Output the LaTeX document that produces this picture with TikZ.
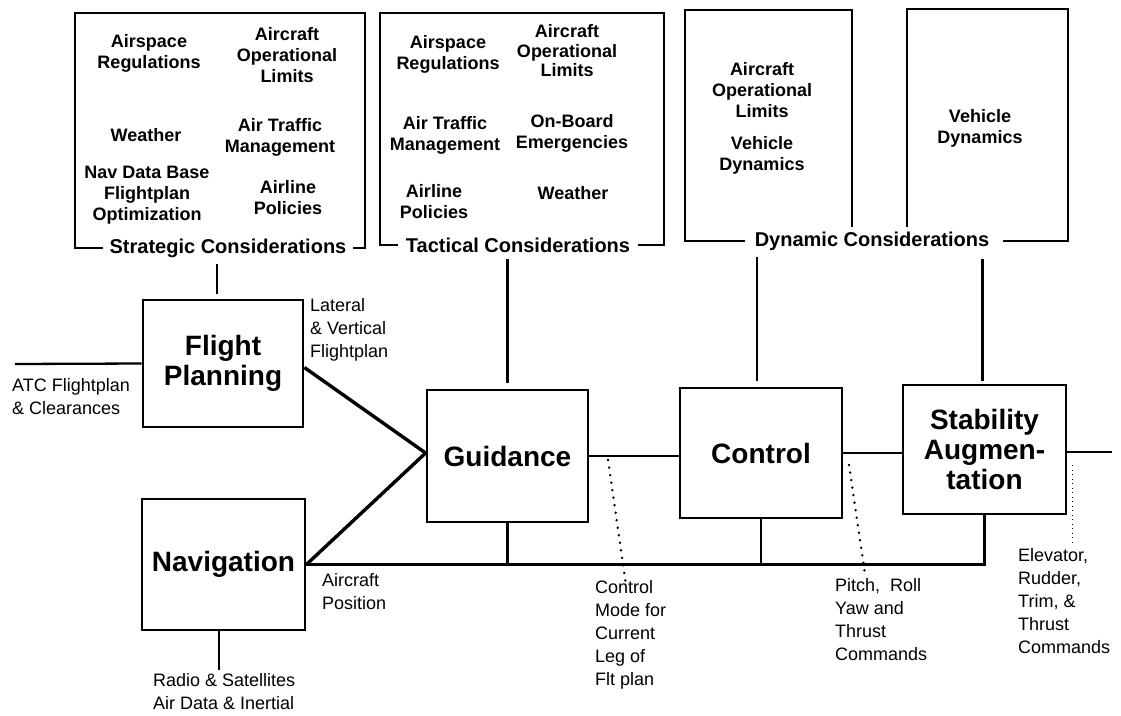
\documentclass[tikz,border=0pt]{standalone}
\usepackage{fontspec}
\setmainfont{Liberation Sans}
\begin{document}
\begin{tikzpicture}[x=1pt,y=-1pt,
  blk/.style={draw, line width=2.8pt, inner sep=0pt, align=center,
    font=\fontsize{28}{30}\selectfont\bfseries},
  cons/.style={inner sep=0pt, align=center, font=\fontsize{18}{21}\selectfont\bfseries},
  clab/.style={inner sep=0pt, font=\fontsize{20}{24}\selectfont\bfseries},
  lab/.style={inner sep=0pt, align=left, anchor=north west, font=\fontsize{18}{23}\selectfont},
  frame/.style={line width=2.8pt, line join=miter},
  heavy/.style={line width=3.4pt},
  conn/.style={line width=2.3pt},
  dotline/.style={line width=2.6pt, line cap=round, dash pattern=on 0.1pt off 7.5pt},
  fineline/.style={line width=1pt, dash pattern=on 1pt off 3.5pt}
]
\useasboundingbox (0,0) rectangle (1121,715);

% ---------- consideration frames ----------
\node[clab] (strat) at (228,248) {Strategic Considerations};
\draw[frame] ([xshift=-6pt]strat.west |- 0,248) -- (75,248) -- (75,13) -- (365,13) -- (365,248) -- ([xshift=6pt]strat.east |- 0,248);
\node[cons] (s1) at (149,53) {Airspace\\Regulations};
\node[cons] (s2) at (287,55) {Aircraft\\Operational\\Limits};
\node[cons] (s3) at (146,135) {Weather};
\node[cons] (s4) at (280,137) {Air Traffic\\Management};
\node[cons] (s5) at (147,195) {Nav Data Base\\Flightplan\\Optimization};
\node[cons] (s6) at (288,198) {Airline\\Policies};

\node[clab] (tact) at (518,245) {Tactical Considerations};
\draw[frame] ([xshift=-8pt]tact.west |- 0,245) -- (380,245) -- (380,13) -- (664,13) -- (664,245) -- ([xshift=8pt]tact.east |- 0,245);
\node[cons] (t1) at (448,54) {Airspace\\Regulations};
\node[cons, font=\fontsize{18}{19.5}\selectfont\bfseries] (t2) at (567,51) {Aircraft\\Operational\\Limits};
\node[cons] (t3) at (445,135) {Air Traffic\\Management};
\node[cons] (t4) at (572,133) {On-Board\\Emergencies};
\node[cons] (t5) at (434,202) {Airline\\Policies};
\node[cons] (t6) at (573,193) {Weather};

\node[clab] (dyn) at (872,241) {Dynamic Considerations};
\draw[frame] ([xshift=-10pt]dyn.west |- 0,241) -- (685,241) -- (685,10) -- (852,10) -- (852,227);
\draw[frame] (907,227) -- (907,9) -- (1068,9) -- (1068,241) -- ([xshift=14pt]dyn.east |- 0,241);
\node[cons] (d1) at (762,90) {Aircraft\\Operational\\Limits};
\node[cons] (d2) at (762,155) {Vehicle\\Dynamics};
\node[cons] (d3) at (980,128) {Vehicle\\Dynamics};

% ---------- blocks ----------
\node[blk, minimum width=160pt, minimum height=127pt] (fp) at (223,363.5) {Flight\\Planning};
\node[blk, minimum width=163pt, minimum height=131pt] (nav) at (223.5,564.5) {Navigation};
\node[blk, minimum width=161pt, minimum height=132pt] (guid) at (507.5,456) {Guidance};
\node[blk, minimum width=162pt, minimum height=130pt] (ctrl) at (761,453) {Control};
\node[blk, minimum width=163pt, minimum height=129pt] (stab) at (984.5,449.5) {Stability\\Augmen-\\tation};

% ---------- connectors ----------
\draw[conn, shorten <=5pt] ([xshift=-6pt]fp.north) -- ([xshift=-6pt,yshift=-6pt]fp.north |- strat.south);
\draw[conn, shorten <=6pt] (guid.north) -- ([yshift=-6pt]guid.north |- tact.south);
\draw[conn, shorten <=6pt] ([xshift=-4pt]ctrl.north) -- ([xshift=-4pt,yshift=-6pt]ctrl.north |- dyn.south);
\draw[conn, shorten <=3pt] ([xshift=-2pt]stab.north) -- ([xshift=-2pt,yshift=-8pt]stab.north |- dyn.south);

\coordinate (atcin) at (15,364);
\draw[conn] (atcin) -- (fp.west);

\draw[heavy] ([yshift=-4pt]fp.east) -- ([yshift=3pt]guid.west);
\draw[heavy] (nav.east) -- ([yshift=3pt]guid.west);
\draw[heavy] (nav.east) -- (nav.east -| stab.south) -- (stab.south);
\draw[conn] (guid.south) -- (guid.south |- nav.east);
\draw[conn] (ctrl.south) -- (ctrl.south |- nav.east);
\draw[conn] (guid.east) -- (guid.east -| ctrl.west);
\draw[conn] (ctrl.east) -- (ctrl.east -| stab.west);
\coordinate (out) at (1112,452);
\draw[conn] ([yshift=-2.5pt]stab.east) -- (out);

\coordinate (nrad) at (219,670);
\draw[conn] ([xshift=-4.5pt]nav.south) -- (nrad);

% dotted leaders
\coordinate (q1a) at (608,460);
\coordinate (q1b) at (626,585);
\draw[dotline] (q1a) -- (q1b);
\coordinate (q2a) at (849,465);
\coordinate (q2b) at (865,574);
\draw[dotline] (q2a) -- (q2b);
\coordinate (q3a) at (1072,465);
\coordinate (q3b) at (1072,543);
\draw[fineline] (q3a) -- (q3b);

% ---------- labels ----------
\node[lab] (atc) at (12,378) {ATC Flightplan\\\& Clearances};
\node[lab] (lvf) at (310,298) {Lateral\\\& Vertical\\Flightplan};
\node[lab] (acp) at (322,573) {Aircraft\\Position};
\node[lab] (rsa) at (153,673) {Radio \& Satellites\\Air Data \& Inertial};
\node[lab] (cm) at (595,580) {Control\\Mode for\\Current\\Leg of\\Flt plan};
\node[lab] (prc) at (835,578) {Pitch,\ \ Roll\\Yaw and\\Thrust\\Commands};
\node[lab] (ert) at (1018,548) {Elevator,\\Rudder,\\Trim, \&\\Thrust\\Commands};
\end{tikzpicture}
\end{document}
